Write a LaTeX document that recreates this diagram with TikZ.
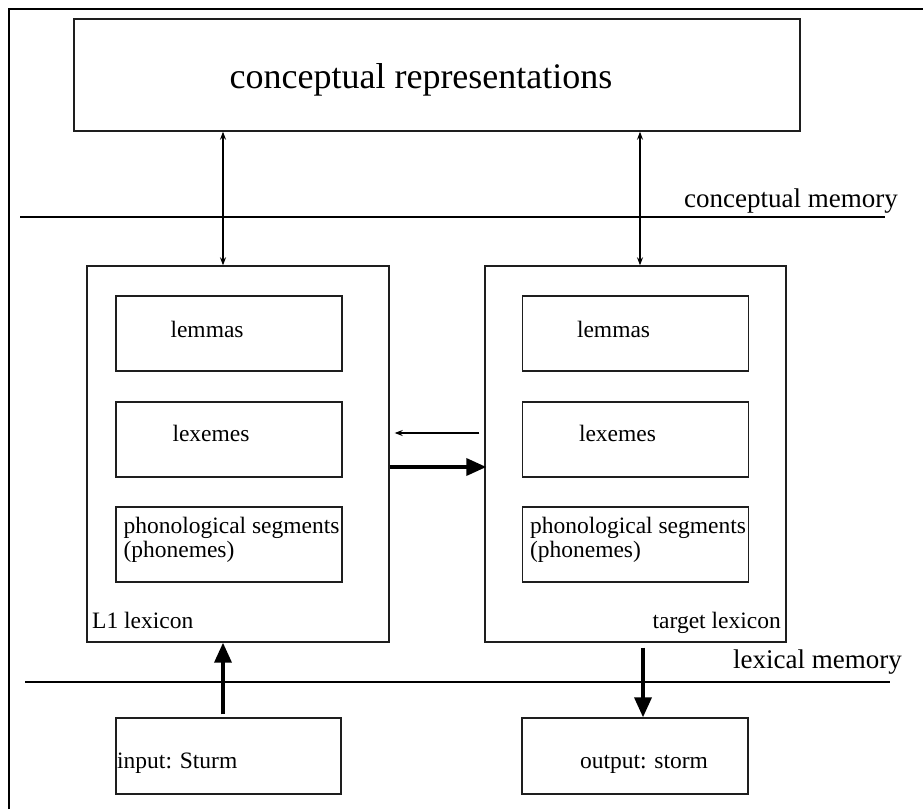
\documentclass[tikz,border=0pt]{standalone}
\usepackage{fontspec}
\setmainfont{Liberation Serif}
\usepackage{tikz}
\usetikzlibrary{arrows.meta,positioning,calc}
\definecolor{boxLine}{RGB}{30,30,30}

\begin{document}
\begin{tikzpicture}[x=1pt,y=-1pt,
          bx/.style={draw=boxLine,line width=1.4pt,inner sep=0pt},
          inb/.style={bx,minimum width=226,minimum height=75},
          lbl/.style={inner sep=0pt,font=\fontsize{23.5}{26}\selectfont},
          mem/.style={inner sep=0pt,font=\fontsize{27}{29}\selectfont},
          thin/.style={line width=1.1pt,-{Stealth[length=8pt,width=6pt]}},
          thick/.style={line width=3.6pt,-{Triangle[length=20pt,width=17pt]}},
        ]
        \useasboundingbox (0,0) rectangle (923,809);
        % frame
        \draw[line width=2.5pt] (9,809) -- (9,9) -- (923,9);
        % conceptual level
        \node[bx,minimum width=726,minimum height=112] (concept) at (437,75){};
        \node[inner sep=0pt,font=\fontsize{36}{38}\selectfont,anchor=base]
             (conceptTxt) at (421,88){conceptual representations};
        \node[mem,anchor=base west] (cmem) at (684,207){conceptual memory};
        \draw[line width=1.4pt] (20,217) -- (885,217);
        % lexicons
        \node[bx,minimum width=302,minimum height=376] (L1) at (238,454){};
        \node[bx,minimum width=301,minimum height=376] (Tg) at (635.5,454){};
        \foreach \s/\xc in {L/229,T/635.5}{
          \node[inb] (lem\s) at (\xc,333.5){};
          \node[inb] (lex\s) at (\xc,439.5){};
          \node[inb] (pho\s) at (\xc,544.5){};
          \node[lbl,anchor=base west] at ($(lem\s.west)+(55,3.5)$){lemmas};
          \node[lbl,anchor=base west] at ($(lex\s.west)+(57,1.5)$){lexemes};
          \node[lbl,anchor=base west] at ($(pho\s.west)+(8,-11.5)$){phonological segments};
          \node[lbl,anchor=base west] at ($(pho\s.west)+(8,12.5)$){(phonemes)};
        }
        \node[lbl,anchor=base west] (L1Txt) at (92,628){L1 lexicon};
        \node[lbl,anchor=base east] (TgTxt) at (781,628){target lexicon};
        % concept <-> lexicons
        \draw[thin,{Stealth[length=8pt,width=6pt]}-{Stealth[length=8pt,width=6pt]}]
             (concept.south -| 223,0) -- (L1.north -| 223,0);
        \draw[thin,{Stealth[length=8pt,width=6pt]}-{Stealth[length=8pt,width=6pt]}]
             (concept.south -| 640,0) -- (Tg.north -| 640,0);
        % between lexicons
        \draw[thin,shorten <=5pt,shorten >=5pt] (Tg.west |- 0,433) -- (L1.east |- 0,433);
        \draw[thick,shorten >=-2pt] (L1.east |- 0,467) -- (Tg.west |- 0,467);
        % lexical level
        \node[mem,anchor=base west] (lmem) at (733,668){lexical memory};
        \draw[line width=1.4pt] (25,682) -- (890,682);
        \node[bx,minimum width=225,minimum height=76] (inp) at (228.5,756){};
        \node[bx,minimum width=226,minimum height=76] (outp) at (635,756){};
        \node[lbl,anchor=base west] (inpTxt) at (117,768){input: Sturm};
        \node[lbl,anchor=base] (outpTxt) at (644,768){output: storm};
        \draw[thick,shorten <=3pt] (inp.north -| 223,0) -- (L1.south -| 223,0);
        \draw[thick,shorten <=5pt] (Tg.south -| 643,0) -- (outp.north -| 643,0);
      \end{tikzpicture}
\end{document}
